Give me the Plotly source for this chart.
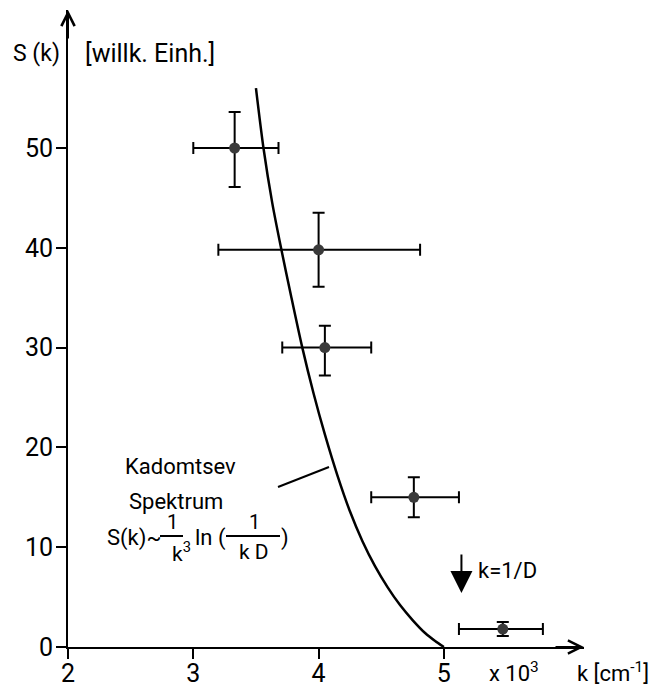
import plotly.graph_objects as go

# measured data points (k in 10^3 cm^-1, S in arbitrary units)
k_pts = [3.33, 4.00, 4.05, 4.76, 5.47]
s_pts = [50.0, 39.8, 30.0, 15.0, 1.8]
k_lo = [3.00, 3.20, 3.71, 4.42, 5.12]
k_hi = [3.68, 4.81, 4.42, 5.12, 5.79]
s_lo = [46.1, 36.1, 27.2, 13.0, 1.1]
s_hi = [53.6, 43.5, 32.2, 17.0, 2.5]

# Kadomtsev spectrum curve
curve_k = [3.50, 3.56, 3.63, 3.70, 3.78, 3.87, 3.96, 4.05, 4.15, 4.25, 4.35, 4.45, 4.55, 4.65, 4.75, 4.85, 4.93, 5.00]
curve_s = [56.0, 50.0, 44.5, 40.0, 35.2, 30.0, 25.4, 21.3, 17.2, 13.6, 10.6, 8.1, 6.0, 4.2, 2.7, 1.4, 0.6, 0.0]

x_ticks = [2, 3, 4, 5]
y_ticks = [0, 10, 20, 30, 40, 50]

# layout geometry (pixels)
W, H = 655, 688
L, R, T, B = 68, 71, 10, 41
XS = 125.3   # px per k unit
YS = 9.98    # px per S unit
x_max = 2 + (W - L - R) / XS
y_max = (H - T - B) / YS

def xp(px):
    return (px - L) / (W - L - R)

def yp(py):
    return (H - B - py) / (H - T - B)

FONT = "Roboto"
fig = go.Figure()

fig.add_trace(go.Scatter(
    x=curve_k, y=curve_s, mode="lines",
    line=dict(color="black", width=2.5, shape="spline", smoothing=0.8),
    showlegend=False, hoverinfo="skip"))

fig.add_trace(go.Scatter(
    x=k_pts, y=s_pts, mode="markers",
    marker=dict(size=11, color="#3a3a3a"),
    error_x=dict(type="data", symmetric=False,
                 array=[h - c for h, c in zip(k_hi, k_pts)],
                 arrayminus=[c - l for c, l in zip(k_pts, k_lo)],
                 color="black", thickness=2, width=6),
    error_y=dict(type="data", symmetric=False,
                 array=[h - c for h, c in zip(s_hi, s_pts)],
                 arrayminus=[c - l for c, l in zip(s_pts, s_lo)],
                 color="black", thickness=2, width=6),
    showlegend=False, cliponaxis=False))

ann = []
def txt(px, py, s, size=22, xanchor="center"):
    ann.append(dict(x=xp(px), y=yp(py), xref="paper", yref="paper", text=s, showarrow=False,
                    xanchor=xanchor, yanchor="middle",
                    font=dict(family=FONT, size=size, color="black")))

# axis arrowheads
ann.append(dict(x=x_max, y=0, xref="x", yref="y", ax=-30, ay=0, text="",
                showarrow=True, arrowhead=5, arrowsize=1.3, arrowwidth=2, arrowcolor="black"))
ann.append(dict(x=2, y=y_max, xref="x", yref="y", ax=0, ay=30, text="",
                showarrow=True, arrowhead=5, arrowsize=1.3, arrowwidth=2, arrowcolor="black"))

# axis titles
txt(36, 53, "S (k)", 23)
txt(150, 53, "[willk. Einh.]", 25)
txt(514, 672, "x 10<sup>3</sup>", 22)
txt(613, 672, "k [cm<sup>-1</sup>]", 22)

# k = 1/D marker
ann.append(dict(x=5.14, y=(H - B - 593) / YS, xref="x", yref="y", ax=0, ay=-40, text="",
                showarrow=True, arrowhead=2, arrowsize=2.2, arrowwidth=2, arrowcolor="black"))
txt(507, 570, "k=1/D", 22)

# Kadomtsev label
txt(180, 467, "Kadomtsev", 22)
txt(176, 502, "Spektrum", 22)
txt(134, 538, "S(k)~", 22)
txt(172, 522, "1", 20)
txt(181, 552, "k<sup>3</sup>", 21)
txt(210, 538, "ln (", 22)
txt(254, 522, "1", 20)
txt(254, 552, "k D", 21)
txt(285, 538, ")", 22)

def hline(x0, x1, y0, y1):
    return dict(type="line", xref="paper", yref="paper", x0=xp(x0), x1=xp(x1),
                y0=yp(y0), y1=yp(y1), line=dict(color="black", width=2))

shapes = [hline(160, 183, 536, 536), hline(226, 280, 536, 536), hline(278, 329, 487, 467)]

axis_common = dict(showline=True, linecolor="black", linewidth=2, ticks="outside",
                   ticklen=10, tickwidth=2, tickcolor="black", showgrid=False, zeroline=False,
                   automargin=False,
                   tickfont=dict(family=FONT, size=25, color="black"))

fig.update_layout(
    width=W, height=H, margin=dict(l=L, r=R, t=T, b=B),
    plot_bgcolor="white", paper_bgcolor="white",
    xaxis=dict(range=[2, x_max], tickvals=x_ticks, ticklabelstandoff=-7, **axis_common),
    yaxis=dict(range=[0, y_max], tickvals=y_ticks, ticklabelstandoff=-2, **axis_common),
    annotations=ann, shapes=shapes, showlegend=False)

fig.write_html("out.html")
